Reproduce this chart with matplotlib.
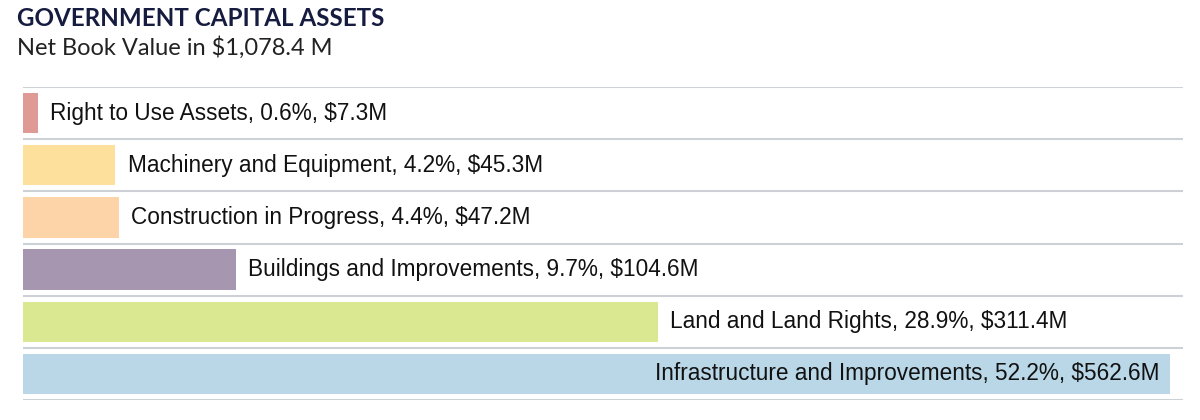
import matplotlib.pyplot as plt

categories = ['Right to Use Assets', 'Machinery and Equipment', 'Construction in Progress',
              'Buildings and Improvements', 'Land and Land Rights', 'Infrastructure and Improvements']
percents = [0.6, 4.2, 4.4, 9.7, 28.9, 52.2]
values = [7.3, 45.3, 47.2, 104.6, 311.4, 562.6]
colors = ['#e09a96', '#fde09c', '#fdd4a8', '#a796b0', '#d9e891', '#b9d7e7']

fig = plt.figure(figsize=(12, 4.2), dpi=100)
ax = fig.add_axes([23 / 1200, 1 - 400 / 420, (1183 - 23) / 1200, (400 - 87) / 420])

n = len(categories)
ypos = list(range(n))
ax.barh(ypos, values, height=0.77, color=colors)
ax.set_ylim(n - 0.5, -0.5)
ax.set_xlim(0, 569)

# separator lines between rows
for b in range(n + 1):
    ax.axhline(b - 0.5, color='#cdd1d5', lw=1.5, zorder=0)

for i, (c, p, v) in enumerate(zip(categories, percents, values)):
    label = f'{c}, {p}%, ${v}M'
    if i == n - 1:
        ax.text(v - 5, i, label, ha='right', va='center', fontsize=16.3,
                family='Liberation Sans', color='#111111')
    else:
        ax.text(v + 6, i, label, ha='left', va='center', fontsize=16.3,
                family='Liberation Sans', color='#111111')

ax.axis('off')

fig.text(17 / 1200, 1 - 18 / 420, 'GOVERNMENT CAPITAL ASSETS', fontsize=17.4, fontweight='bold',
         family='Lato', color='#161c3f', va='center')
fig.text(17 / 1200, 1 - 48 / 420, 'Net Book Value in $1,078.4 M', fontsize=17,
         family='Lato', color='#222222', va='center')

fig.savefig('out.png', dpi=100)
